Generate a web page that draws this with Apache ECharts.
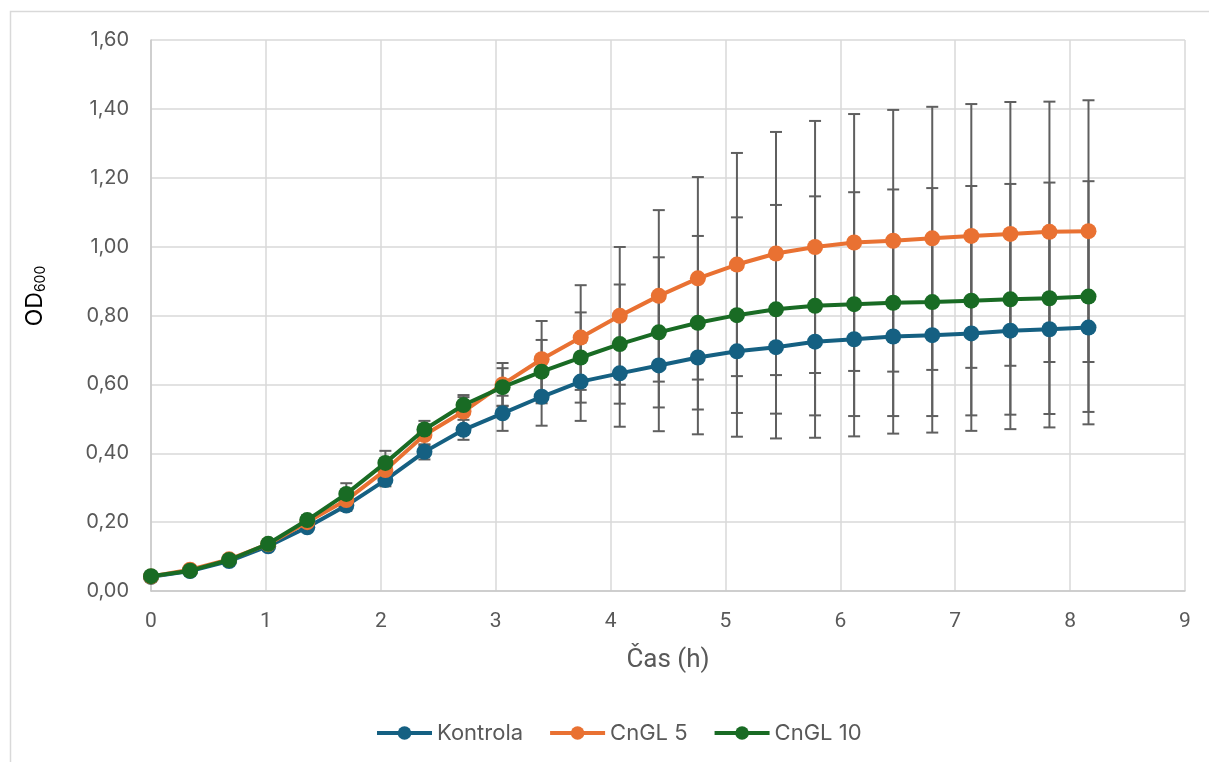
<!DOCTYPE html>
<html>
<head>
<meta charset="utf-8">
<script src="https://cdn.jsdelivr.net/npm/echarts@6/dist/echarts.min.js"></script>
<style>
html,body{margin:0;padding:0;background:#fff;}
#chart{width:1209px;height:762px;}
</style>
</head>
<body>
<div id="chart"></div>
<script>
// ---- data ----
const times = [0, 0.34, 0.68, 1.02, 1.36, 1.70, 2.04, 2.38, 2.72, 3.06, 3.40, 3.74, 4.08, 4.42, 4.76, 5.10, 5.44, 5.78, 6.12, 6.46, 6.80, 7.14, 7.48, 7.82, 8.16];
const seriesNames = ['Kontrola', 'CnGL 5', 'CnGL 10'];
const kontrola = [0.041, 0.058, 0.087, 0.130, 0.185, 0.248, 0.322, 0.404, 0.468, 0.516, 0.564, 0.608, 0.632, 0.655, 0.678, 0.696, 0.708, 0.724, 0.731, 0.739, 0.743, 0.748, 0.756, 0.760, 0.765];
const kontrolaErr = [0.003, 0.004, 0.005, 0.008, 0.010, 0.015, 0.018, 0.022, 0.029, 0.051, 0.084, 0.114, 0.155, 0.191, 0.223, 0.248, 0.265, 0.279, 0.282, 0.282, 0.283, 0.283, 0.286, 0.285, 0.281];
const cngl5 = [0.042, 0.062, 0.092, 0.136, 0.200, 0.264, 0.351, 0.453, 0.521, 0.600, 0.673, 0.736, 0.799, 0.857, 0.908, 0.948, 0.980, 0.999, 1.012, 1.017, 1.024, 1.031, 1.037, 1.043, 1.045];
const cngl5Err = [0.003, 0.004, 0.006, 0.008, 0.012, 0.018, 0.025, 0.030, 0.042, 0.062, 0.111, 0.152, 0.200, 0.249, 0.294, 0.324, 0.353, 0.366, 0.373, 0.380, 0.382, 0.383, 0.383, 0.378, 0.380];
const cngl10 = [0.043, 0.059, 0.090, 0.137, 0.206, 0.282, 0.372, 0.469, 0.540, 0.592, 0.637, 0.678, 0.717, 0.751, 0.779, 0.801, 0.818, 0.828, 0.833, 0.837, 0.839, 0.843, 0.847, 0.850, 0.855];
const cngl10Err = [0.003, 0.004, 0.006, 0.009, 0.014, 0.031, 0.035, 0.025, 0.029, 0.055, 0.092, 0.131, 0.173, 0.218, 0.252, 0.284, 0.303, 0.318, 0.325, 0.329, 0.331, 0.333, 0.335, 0.336, 0.335];
const colors = ['#156082', '#E97132', '#196B24'];

const values = [kontrola, cngl5, cngl10];
const errs = [kontrolaErr, cngl5Err, cngl10Err];

const chart = echarts.init(document.getElementById('chart'), null, {renderer: 'canvas'});

function errRender(params, api) {
  const x = api.value(0), lo = api.value(1), hi = api.value(2);
  const a = api.coord([x, lo]);
  const b = api.coord([x, hi]);
  const w = 6;
  const st = {stroke: '#5f5f5f', lineWidth: 2};
  return {
    type: 'group',
    children: [
      {type: 'line', shape: {x1: a[0], y1: a[1], x2: b[0], y2: b[1]}, style: st},
      {type: 'line', shape: {x1: a[0] - w, y1: a[1], x2: a[0] + w, y2: a[1]}, style: st},
      {type: 'line', shape: {x1: b[0] - w, y1: b[1], x2: b[0] + w, y2: b[1]}, style: st}
    ]
  };
}

const series = [];
seriesNames.forEach((name, k) => {
  series.push({
    name: 'err_' + name,
    type: 'custom',
    renderItem: errRender,
    z: 1,
    silent: true,
    data: times.map((t, i) => [t, values[k][i] - errs[k][i], values[k][i] + errs[k][i]])
  });
});
seriesNames.forEach((name, k) => {
  series.push({
    name: name,
    type: 'line',
    z: 3 + k,
    symbol: 'circle',
    symbolSize: 16,
    showSymbol: true,
    lineStyle: {width: 4, color: colors[k]},
    itemStyle: {color: colors[k]},
    data: times.map((t, i) => [t, values[k][i]])
  });
});

const labelFont = "Roboto, 'Liberation Sans', sans-serif";

const option = {
  backgroundColor: '#ffffff',
  animation: false,
  graphic: [{
    type: 'rect',
    shape: {x: 10.5, y: 11.5, width: 1400, height: 900},
    style: {fill: 'none', stroke: '#d9d9d9', lineWidth: 1.5},
    silent: true
  }, {
    type: 'text',
    x: 35,
    y: 296,
    rotation: Math.PI / 2,
    silent: true,
    style: {
      text: '{a|OD}{b|600}',
      align: 'center',
      verticalAlign: 'middle',
      rich: {
        a: {fontFamily: 'Inter', fontSize: 23, color: '#595959'},
        b: {fontFamily: 'Inter', fontSize: 14, color: '#595959', padding: [11, 0, 0, 0]}
      }
    }
  }],
  grid: {left: 151, right: 24, top: 40, bottom: 171, containLabel: false},
  legend: {
    data: seriesNames,
    bottom: 13,
    left: 370,
    itemWidth: 55,
    itemHeight: 17,
    itemGap: 25,
    lineStyle: {width: 4},
    textStyle: {fontFamily: 'Inter', fontSize: 22, color: '#595959'}
  },
  xAxis: {
    type: 'value',
    min: 0,
    max: 9,
    interval: 1,
    name: 'Čas (h)',
    nameLocation: 'middle',
    nameGap: 56,
    nameTextStyle: {fontFamily: labelFont, fontSize: 26, color: '#595959'},
    axisLine: {show: true, lineStyle: {color: '#c8c8c8', width: 1.5}},
    axisTick: {show: false},
    axisLabel: {margin: 20, fontFamily: labelFont, fontSize: 21, color: '#595959'},
    splitLine: {show: true, lineStyle: {color: '#d9d9d9', width: 1.5}}
  },
  yAxis: {
    type: 'value',
    min: 0,
    max: 1.6,
    interval: 0.2,
    axisLine: {show: true, lineStyle: {color: '#c8c8c8', width: 1.5}},
    axisTick: {show: false},
    axisLabel: {
      margin: 22,
      fontFamily: 'Inter',
      fontSize: 20,
      color: '#595959',
      formatter: v => v.toFixed(2).replace('.', ',')
    },
    splitLine: {show: true, lineStyle: {color: '#d9d9d9', width: 1.5}}
  },
  series: series
};
chart.setOption(option);
</script>
</body>
</html>
